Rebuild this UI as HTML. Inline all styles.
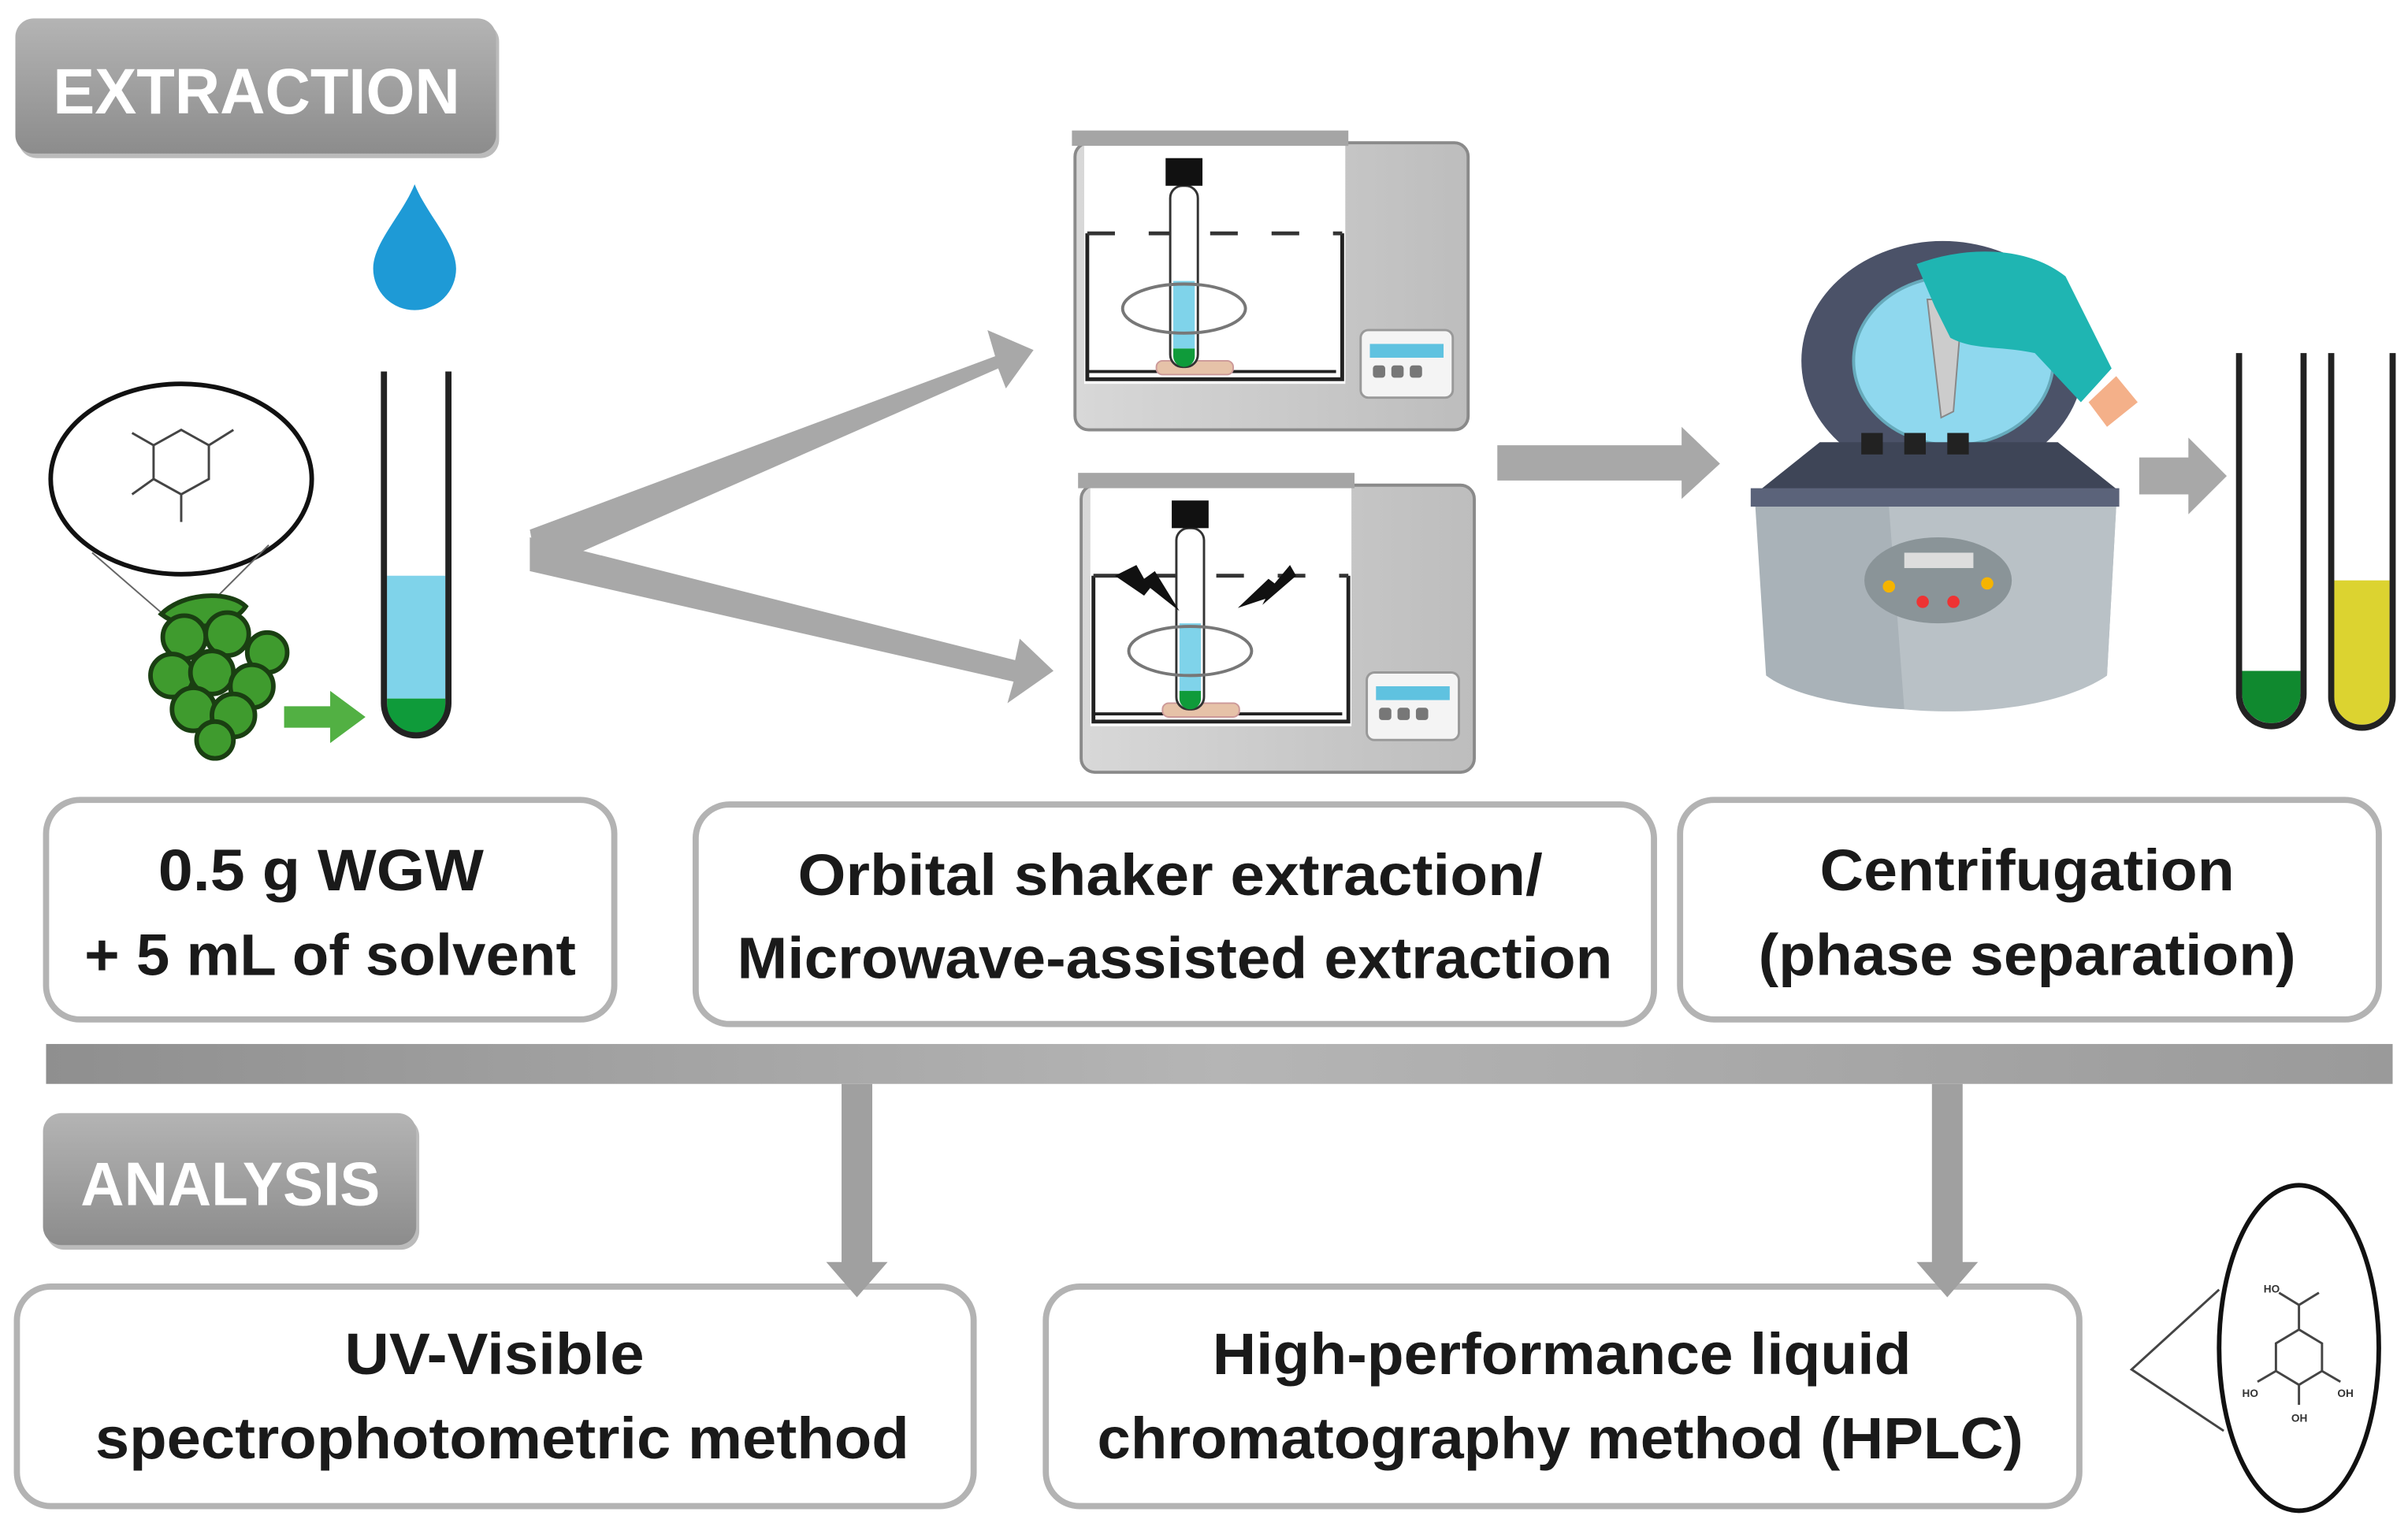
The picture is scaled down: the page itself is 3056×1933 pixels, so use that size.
<!DOCTYPE html>
<html><head><meta charset="utf-8"><style>
html,body{margin:0;padding:0;background:#fff;}
svg{display:block;}
text{font-family:"Liberation Sans",sans-serif;font-weight:bold;}
</style></head><body>
<svg width="3056" height="1933" viewBox="0 0 1568 992" preserveAspectRatio="none" xmlns="http://www.w3.org/2000/svg">
<defs>
<linearGradient id="hg" x1="0" y1="0" x2="0" y2="1"><stop offset="0" stop-color="#b4b4b4"/><stop offset="1" stop-color="#8c8c8c"/></linearGradient>
<linearGradient id="bar" x1="0" y1="0" x2="1" y2="0"><stop offset="0" stop-color="#8f8f8f"/><stop offset="0.5" stop-color="#b5b5b5"/><stop offset="1" stop-color="#9a9a9a"/></linearGradient>
<linearGradient id="body" x1="0" y1="0" x2="1" y2="0"><stop offset="0" stop-color="#d8d8d8"/><stop offset="1" stop-color="#bdbdbd"/></linearGradient>
<g id="shaker">
<rect x="2" y="8" width="256" height="187" rx="9" fill="url(#body)" stroke="#8a8a8a" stroke-width="2"/>
<rect x="0" y="0" width="180" height="10" fill="#a5a5a5"/>
<rect x="8" y="10" width="170" height="155" fill="#fff"/>
<path d="M10 67 V162 H176 V67" fill="none" stroke="#222" stroke-width="2.5"/>
<path d="M10 67 H176" stroke="#333" stroke-width="2.5" stroke-dasharray="18 22"/>
<path d="M10 157 H172" stroke="#222" stroke-width="2"/>
<rect x="55" y="150" width="50" height="9" rx="4" fill="#e6c2a8" stroke="#c99" stroke-width="1"/>
<rect x="64" y="36" width="18" height="118" rx="8" fill="#fff" stroke="#333" stroke-width="1.5"/>
<rect x="66" y="98" width="14" height="44" fill="#7fd3ea"/>
<path d="M66 142 H80 V147 A7 7 0 0 1 66 147Z" fill="#0f9b3a"/>
<rect x="61" y="18" width="24" height="18" fill="#111"/>
<ellipse cx="73" cy="116" rx="40" ry="16" fill="none" stroke="#777" stroke-width="2"/>
<rect x="188" y="130" width="60" height="44" rx="5" fill="#f4f4f4" stroke="#999" stroke-width="1.5"/>
<rect x="194" y="139" width="48" height="9" fill="#5fc2e0"/>
<rect x="196" y="153" width="8" height="8" rx="2" fill="#777"/><rect x="208" y="153" width="8" height="8" rx="2" fill="#777"/><rect x="220" y="153" width="8" height="8" rx="2" fill="#777"/>
</g>
</defs>

<!-- header EXTRACTION -->
<rect x="12" y="15" width="313" height="88" rx="12" fill="#777" opacity="0.5"/>
<rect x="10" y="12" width="313" height="88" rx="12" fill="url(#hg)"/>
<text x="167" y="74" font-size="42" fill="#fff" text-anchor="middle" textLength="265" lengthAdjust="spacingAndGlyphs">EXTRACTION</text>

<!-- water drop -->
<path d="M270 120 C262 140 243 158 243 175 A27 27 0 0 0 297 175 C297 158 278 140 270 120Z" fill="#1e9ad6"/>

<!-- molecule ellipse -->
<ellipse cx="118" cy="312" rx="85" ry="62" fill="#fff" stroke="#111" stroke-width="3"/>
<path d="M60 360 L120 412 M175 355 L130 400" stroke="#666" stroke-width="1"/>
<g stroke="#444" stroke-width="1.5" fill="none"><path d="M100 290 L118 280 L136 290 L136 312 L118 322 L100 312Z M136 290 L152 280 M118 322 L118 340 M100 312 L86 322 M100 290 L86 282"/></g>

<!-- grapes -->
<g fill="#3f9b2e" stroke="#1a3f12" stroke-width="3">
<path d="M105 400 C120 385 150 385 160 395 C150 410 120 412 105 400Z"/>
<circle cx="120" cy="415" r="14"/><circle cx="148" cy="413" r="14"/><circle cx="174" cy="425" r="13"/>
<circle cx="112" cy="440" r="14"/><circle cx="138" cy="438" r="14"/><circle cx="164" cy="447" r="14"/>
<circle cx="126" cy="462" r="14"/><circle cx="152" cy="466" r="14"/><circle cx="140" cy="482" r="12"/>
</g>
<!-- green arrow -->
<path d="M185 460 H215 V450 L238 467 L215 484 V474 H185Z" fill="#52b043"/>

<!-- tube -->
<rect x="252" y="375" width="38" height="80" fill="#7fd3ea"/>
<path d="M252 455 H290 V460 A19 19 0 0 1 252 460Z" fill="#0f9b3a"/>
<path d="M250 242 V458 A21 21 0 0 0 292 458 V242" fill="none" stroke="#222" stroke-width="4"/>

<!-- big chevron arrows -->
<path d="M345 345 L648 232 L643 215 L673 228 L655 253 L650 240 L350 372Z" fill="#a8a8a8"/>
<path d="M345 350 L345 372 L660 444 L656 458 L686 437 L664 416 L661 430Z" fill="#a8a8a8"/>

<!-- shakers -->
<use href="#shaker" x="698" y="85"/>
<use href="#shaker" x="702" y="308"/>
<path d="M726 375 L740 368 L745 377 L752 372 L768 398 L749 383 L745 388Z" fill="#111"/>
<path d="M840 368 L830 380 L826 377 L806 396 L824 390 L822 394 L844 375Z" fill="#111"/>

<!-- arrow to centrifuge -->
<path d="M975 290 H1095 V278 L1120 302 L1095 325 V313 H975Z" fill="#a8a8a8"/>

<!-- centrifuge -->
<ellipse cx="1265" cy="235" rx="92" ry="78" fill="#4b5268"/>
<ellipse cx="1272" cy="235" rx="65" ry="55" fill="#8fd8ee" stroke="#6ab" stroke-width="2"/>
<path d="M1145 320 L1185 288 H1340 L1380 320 Z" fill="#3e4557"/>
<rect x="1140" y="318" width="240" height="12" fill="#5b637a"/>
<path d="M1143 330 H1378 L1372 440 C1330 470 1190 470 1150 440Z" fill="#a9b2b8"/>
<path d="M1230 330 H1378 L1372 440 C1340 462 1280 466 1240 462Z" fill="#b9c1c6"/>
<ellipse cx="1262" cy="378" rx="48" ry="28" fill="#8a9498"/>
<rect x="1240" y="360" width="45" height="10" fill="#ddd"/>
<circle cx="1230" cy="382" r="4" fill="#f5b400"/><circle cx="1294" cy="380" r="4" fill="#f5b400"/>
<circle cx="1252" cy="392" r="4" fill="#e33"/><circle cx="1272" cy="392" r="4" fill="#e33"/>
<rect x="1212" y="282" width="14" height="14" fill="#222"/><rect x="1240" y="282" width="14" height="14" fill="#222"/><rect x="1268" y="282" width="14" height="14" fill="#222"/>
<path d="M1255 195 L1278 195 L1272 268 L1264 272Z" fill="#ccc" stroke="#888"/>
<path d="M1248 172 C1280 160 1320 160 1345 180 L1375 240 L1355 262 L1325 230 C1300 225 1285 228 1270 220 L1260 200Z" fill="#1fb5b2"/>
<path d="M1360 262 L1378 245 L1392 262 L1372 278Z" fill="#f4b089"/>

<!-- arrow to tubes -->
<path d="M1393 298 H1425 V285 L1450 310 L1425 335 V322 H1393Z" fill="#a8a8a8"/>

<!-- result tubes -->
<path d="M1460 437 H1498 V452 A19 19 0 0 1 1460 452Z" fill="#10892f"/>
<path d="M1458 230 V452 A21 21 0 0 0 1500 452 V230" fill="none" stroke="#222" stroke-width="4"/>
<path d="M1520 378 H1556 V454 A18 18 0 0 1 1520 454Z" fill="#dcd330"/>
<path d="M1518 230 V454 A20 20 0 0 0 1558 454 V230" fill="none" stroke="#222" stroke-width="4"/>

<!-- label boxes -->
<g fill="#fff" stroke="#b3b3b3" stroke-width="4">
<rect x="30" y="521" width="370" height="143" rx="22"/>
<rect x="453" y="524" width="624" height="143" rx="22"/>
<rect x="1094" y="521" width="455" height="143" rx="22"/>
<rect x="11" y="838" width="623" height="143" rx="22"/>
<rect x="681" y="838" width="673" height="143" rx="22"/>
</g>
<g font-size="38" fill="#1a1a1a" text-anchor="middle">
<text x="209" y="580" textLength="212" lengthAdjust="spacingAndGlyphs">0.5 g WGW</text>
<text x="215" y="635" textLength="320" lengthAdjust="spacingAndGlyphs">+ 5 mL of solvent</text>
<text x="762" y="583" textLength="485" lengthAdjust="spacingAndGlyphs">Orbital shaker extraction/</text>
<text x="765" y="637" textLength="570" lengthAdjust="spacingAndGlyphs">Microwave-assisted extraction</text>
<text x="1320" y="580" textLength="270" lengthAdjust="spacingAndGlyphs">Centrifugation</text>
<text x="1320" y="635" textLength="350" lengthAdjust="spacingAndGlyphs">(phase separation)</text>
<text x="322" y="895" textLength="195" lengthAdjust="spacingAndGlyphs">UV-Visible</text>
<text x="327" y="950" textLength="530" lengthAdjust="spacingAndGlyphs">spectrophotometric method</text>
<text x="1017" y="895" textLength="455" lengthAdjust="spacingAndGlyphs">High-performance liquid</text>
<text x="1016" y="950" textLength="603" lengthAdjust="spacingAndGlyphs">chromatography method (HPLC)</text>
</g>

<!-- horizontal bar -->
<rect x="30" y="680" width="1528" height="26" fill="url(#bar)"/>
<!-- vertical arrows -->
<path d="M548 706 H568 V822 H578 L558 845 L538 822 H548Z" fill="#a0a0a0"/>
<path d="M1258 706 H1278 V822 H1288 L1268 845 L1248 822 H1258Z" fill="#a0a0a0"/>

<!-- ANALYSIS header -->
<rect x="30" y="728" width="243" height="86" rx="12" fill="#777" opacity="0.5"/>
<rect x="28" y="725" width="243" height="86" rx="12" fill="url(#hg)"/>
<text x="150" y="785" font-size="40" fill="#fff" text-anchor="middle" textLength="195" lengthAdjust="spacingAndGlyphs">ANALYSIS</text>

<!-- right molecule ellipse -->
<path d="M1445 840 L1388 892 L1448 932" fill="none" stroke="#444" stroke-width="1.5"/>
<ellipse cx="1497" cy="878" rx="52" ry="106" fill="#fff" stroke="#111" stroke-width="3"/>
<g stroke="#444" stroke-width="1.5" fill="none"><path d="M1482 875 L1497 866 L1512 875 L1512 893 L1497 902 L1482 893Z M1497 866 L1497 850 L1510 842 M1497 850 L1484 842 M1482 893 L1470 900 M1512 893 L1524 900 M1497 902 L1497 915"/></g>
<g font-size="7" fill="#333" font-weight="normal"><text x="1474" y="842">HO</text><text x="1460" y="910">HO</text><text x="1522" y="910">OH</text><text x="1492" y="926">OH</text></g>
</svg>
</body></html>
